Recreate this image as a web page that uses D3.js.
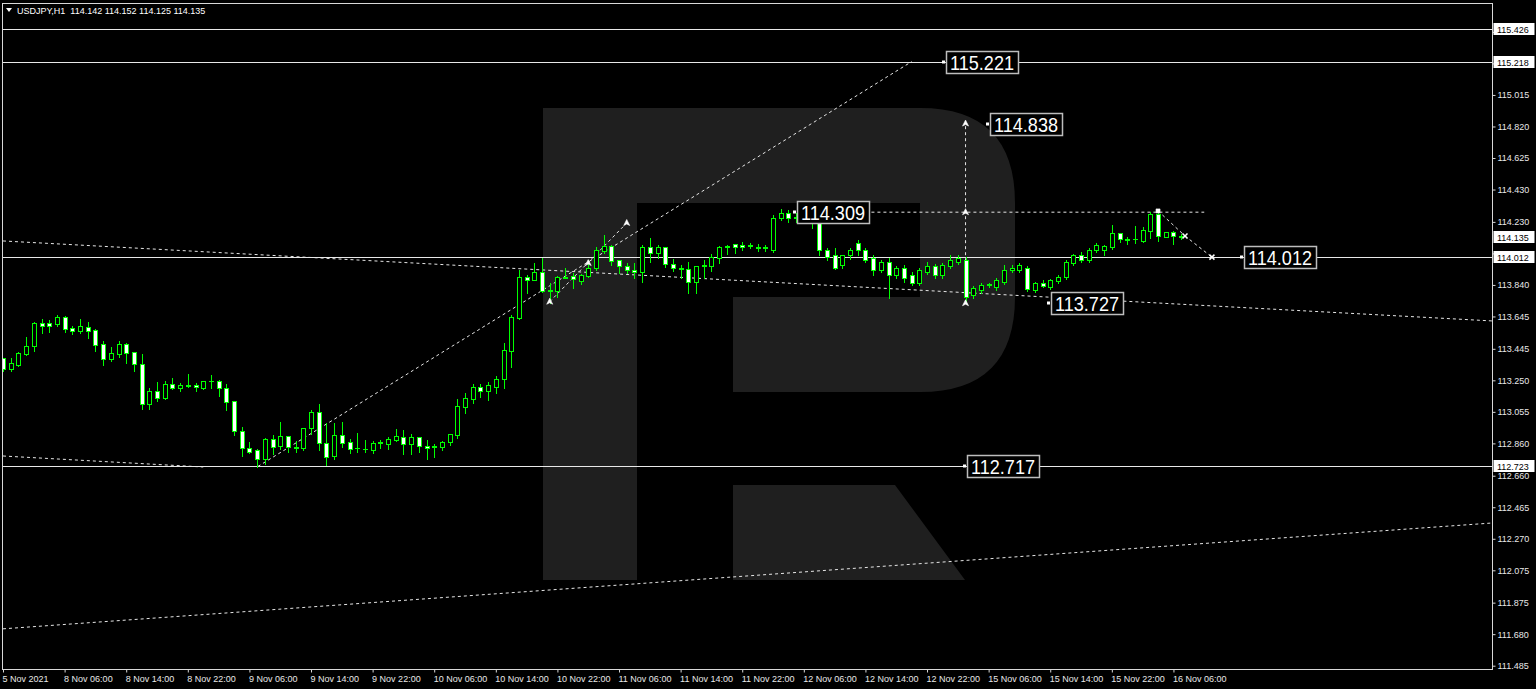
<!DOCTYPE html>
<html><head><meta charset="utf-8">
<script src="https://cdn.jsdelivr.net/npm/d3@7/dist/d3.min.js"></script>
<style>
html,body{margin:0;padding:0;background:#000;overflow:hidden}
svg{display:block}
text{font-family:"Liberation Sans",Arial,sans-serif}
</style></head>
<body>
<svg id="chart" width="1536" height="689"></svg>
<script>
// ---------------- DATA ----------------
const symbolTitle = "USDJPY,H1  114.142 114.152 114.125 114.135";
const open = [113.388,113.320,113.345,113.413,113.463,113.605,113.602,113.599,113.642,113.574,
113.555,113.580,113.562,113.475,113.382,113.413,113.475,113.425,113.351,113.104,
113.184,113.141,113.228,113.203,113.221,113.221,113.203,113.243,113.246,113.203,
113.122,112.937,112.832,112.819,112.764,112.888,112.844,112.906,112.832,112.832,
112.956,113.055,112.863,112.782,112.912,112.869,112.829,112.825,112.819,112.863,
112.857,112.881,112.900,112.857,112.900,112.844,112.838,112.838,112.869,112.912,
113.085,113.135,113.209,113.184,113.209,113.259,113.432,113.636,113.889,113.871,
113.920,113.803,113.803,113.883,113.895,113.864,113.895,113.945,114.050,114.081,
113.994,113.957,113.933,113.920,114.075,114.038,114.075,113.970,113.945,113.939,
113.858,113.957,113.957,114.007,114.075,114.093,114.087,114.081,114.075,114.069,
114.056,114.254,114.285,114.254,114.267,114.254,114.229,114.056,114.025,113.963,
114.025,114.099,114.056,114.007,113.933,113.982,113.902,113.945,113.902,113.852,
113.920,113.957,113.902,113.957,113.982,113.994,113.778,113.809,113.840,113.827,
113.858,113.933,113.933,113.945,113.809,113.852,113.827,113.864,113.889,113.976,
114.025,113.994,114.056,114.056,114.075,114.161,114.124,114.124,114.112,114.174,
114.279,114.136,114.168,114.142];
const high = [113.388,113.388,113.425,113.518,113.611,113.630,113.623,113.654,113.648,113.586,
113.630,113.611,113.568,113.494,113.456,113.494,113.481,113.425,113.413,113.203,
113.240,113.246,113.265,113.234,113.290,113.234,113.246,113.283,113.252,113.228,
113.122,112.962,112.869,112.825,112.894,112.912,112.993,112.906,112.875,112.956,
113.067,113.104,112.987,112.987,112.993,112.888,112.925,112.881,112.875,112.881,
112.900,112.950,112.943,112.918,112.900,112.881,112.857,112.875,112.918,113.135,
113.172,113.228,113.228,113.240,113.277,113.481,113.654,113.933,113.902,113.976,
114.007,113.852,113.895,113.945,113.914,113.908,113.994,114.075,114.149,114.087,
113.994,113.976,113.976,114.087,114.130,114.087,114.075,114.001,113.963,113.982,
113.957,113.994,114.031,114.081,114.087,114.093,114.106,114.099,114.093,114.087,
114.273,114.309,114.304,114.285,114.285,114.291,114.242,114.069,114.069,114.025,
114.069,114.118,114.069,114.025,113.994,114.007,113.957,113.963,113.920,113.945,
113.982,113.970,113.976,114.025,114.025,114.013,113.834,113.852,113.852,113.883,
113.963,113.963,113.976,113.957,113.858,113.871,113.877,113.902,113.994,114.031,
114.044,114.069,114.099,114.087,114.211,114.161,114.136,114.205,114.198,114.291,
114.310,114.168,114.174,114.152];
const low = [113.308,113.308,113.339,113.407,113.432,113.543,113.549,113.586,113.549,113.537,
113.543,113.512,113.432,113.345,113.370,113.395,113.357,113.308,113.073,113.073,
113.122,113.135,113.197,113.184,113.209,113.184,113.197,113.203,113.153,113.067,
112.912,112.782,112.801,112.717,112.733,112.795,112.825,112.807,112.807,112.819,
112.918,112.819,112.727,112.764,112.838,112.801,112.807,112.807,112.801,112.832,
112.825,112.875,112.795,112.795,112.807,112.764,112.776,112.819,112.850,112.894,
113.049,113.110,113.147,113.128,113.172,113.203,113.333,113.630,113.790,113.871,
113.797,113.728,113.766,113.883,113.821,113.846,113.889,113.933,114.038,113.963,
113.914,113.914,113.883,113.858,113.982,114.007,113.951,113.926,113.883,113.790,
113.790,113.883,113.926,113.976,114.031,114.038,114.056,114.069,114.050,114.050,
114.044,114.242,114.229,114.229,114.229,114.192,114.025,113.994,113.939,113.945,
114.001,114.025,113.982,113.902,113.920,113.759,113.883,113.858,113.840,113.840,
113.908,113.883,113.883,113.945,113.970,113.727,113.759,113.790,113.827,113.809,
113.846,113.920,113.920,113.803,113.797,113.827,113.815,113.852,113.877,113.963,
113.982,113.982,114.044,114.025,114.063,114.106,114.093,114.099,114.106,114.130,
114.112,114.136,114.093,114.125];
const close = [113.320,113.357,113.419,113.463,113.605,113.586,113.589,113.642,113.568,113.555,
113.586,113.555,113.469,113.382,113.419,113.475,113.419,113.351,113.104,113.184,
113.141,113.228,113.203,113.221,113.218,113.209,113.246,113.246,113.203,113.116,
112.937,112.832,112.807,112.764,112.888,112.838,112.906,112.838,112.838,112.956,
113.055,112.863,112.776,112.912,112.863,112.825,112.832,112.825,112.863,112.869,
112.888,112.906,112.857,112.900,112.844,112.832,112.844,112.869,112.918,113.091,
113.141,113.209,113.184,113.221,113.259,113.438,113.642,113.889,113.871,113.920,
113.803,113.809,113.889,113.889,113.877,113.902,113.945,114.056,114.081,113.988,
113.957,113.933,113.920,114.075,114.038,114.075,113.970,113.945,113.939,113.858,
113.957,113.963,114.013,114.075,114.081,114.075,114.075,114.087,114.069,114.075,
114.254,114.285,114.254,114.260,114.242,114.229,114.056,114.013,113.945,114.025,
114.056,114.056,113.994,113.933,113.982,113.902,113.945,113.883,113.852,113.933,
113.957,113.902,113.963,113.994,114.007,113.766,113.821,113.840,113.846,113.871,
113.933,113.945,113.963,113.815,113.852,113.834,113.871,113.889,113.982,114.025,
113.994,114.056,114.087,114.081,114.161,114.124,114.118,114.124,114.180,114.279,
114.143,114.168,114.143,114.135];

const timeTickIdx = [0,8,16,24,32,40,48,56,64,72,80,88,96,104,112,120,128,136,144,152];
const timeTickLabels = ["5 Nov 2021","8 Nov 06:00","8 Nov 14:00","8 Nov 22:00","9 Nov 06:00","9 Nov 14:00",
"9 Nov 22:00","10 Nov 06:00","10 Nov 14:00","10 Nov 22:00","11 Nov 06:00","11 Nov 14:00","11 Nov 22:00",
"12 Nov 06:00","12 Nov 14:00","12 Nov 22:00","15 Nov 06:00","15 Nov 14:00","15 Nov 22:00","16 Nov 06:00"];
// price grid ticks; labels that sit under the level boxes are left unlabeled
const priceTicks = [115.405,115.210,115.015,114.820,114.625,114.430,114.230,114.035,113.840,113.645,
113.445,113.250,113.055,112.860,112.660,112.465,112.270,112.075,111.875,111.680,111.485];
const hiddenTickLabels = [115.405,115.210,114.035];

const hLevels = [115.426,115.218,114.012,112.723];
const currentPrice = 114.135;
const bigLabelIdx = [122.4,128.2,103.1,161.1,136.1,125.2];
const bigLabelPrice = [115.218,114.838,114.290,114.012,113.727,112.723];
const bigLabelText = ["115.221","114.838","114.309","114.012","113.727","112.717"];
const trendLines = [
  [0,114.112,193.5,113.617],
  [0,112.782,26,112.714],
  [33.1,112.717,118,115.221],
  [71,113.736,81,114.223],
  [112,114.290,156,114.290],
  [125,113.727,125,114.838],
  [150,114.298,153.5,114.143],
  [153.5,114.143,157,114.012],
  [0,111.713,193.5,112.368]
];
const markIdx = [71,76,81,125,125,125,150,153.5,157];
const markPrice = [113.736,113.975,114.223,113.727,114.290,114.838,114.298,114.143,114.012];
const markType = ["up","up","up","up","up","up","dot","x","x"];

// ---------------- CHART ----------------
const svg = d3.select("#chart");
const W = 1536, H = 689;
const fL = 2.5, fT = 3.5, fR = 1492.5, fB = 669.5;

const x = d3.scaleLinear().domain([0, 193.5]).range([3, 1493]);
const y = d3.scaleLinear().domain([111.485, 115.426]).range([665.7, 28.5]);

svg.append("rect").attr("width",W).attr("height",H).attr("fill","#000");

// watermark
svg.append("path")
  .attr("d","M543,108 H920 Q1015,108 1015,203 V297 Q1015,392 920,392 H733 V297 H920 V203 H637 V580 H543 Z M733,485 H895 L965,580 H733 Z")
  .attr("fill","#1f1f1f");

const plot = svg.append("g");
plot.append("clipPath").attr("id","clip").append("rect")
  .attr("x",fL).attr("y",fT).attr("width",fR-fL).attr("height",fB-fT);
const g = plot.append("g").attr("clip-path","url(#clip)");

g.selectAll("line.trend").data(trendLines).join("line").attr("class","trend")
  .attr("x1",d=>x(d[0])).attr("y1",d=>y(d[1]))
  .attr("x2",d=>x(d[2])).attr("y2",d=>y(d[3]))
  .attr("stroke","#e6e6e6").attr("stroke-width",1).attr("stroke-dasharray","3,3");

g.selectAll("line.lvl").data(hLevels).join("line").attr("class","lvl")
  .attr("x1",fL).attr("x2",fR)
  .attr("y1",d=>Math.round(y(d))+0.5).attr("y2",d=>Math.round(y(d))+0.5)
  .attr("stroke","#e8e8e8").attr("stroke-width",1);

const idx = d3.range(open.length);
const cg = g.append("g");
idx.forEach(i=>{
  const cx = Math.round(x(i))+0.5;
  const o=open[i], c=close[i], h=high[i], l=low[i];
  cg.append("line").attr("x1",cx).attr("x2",cx)
    .attr("y1",Math.round(y(h))).attr("y2",Math.round(y(l))+1)
    .attr("stroke","#00ff00").attr("stroke-width",1);
  const yt = Math.round(y(Math.max(o,c))), yb = Math.round(y(Math.min(o,c)));
  if (yb - yt < 1) {
    cg.append("line").attr("x1",cx-2.5).attr("x2",cx+2.5)
      .attr("y1",yt+0.5).attr("y2",yt+0.5).attr("stroke","#00ff00");
  } else {
    cg.append("rect").attr("x",cx-2).attr("width",4)
      .attr("y",yt+0.5).attr("height",yb-yt)
      .attr("fill", c>=o ? "#000" : "#fff")
      .attr("stroke","#00ff00").attr("stroke-width",1);
  }
});

const markShapes = {
  up: "M0,-3.5 L3,2.5 L0,1 L-3,2.5 Z",
  dot: "M-2,-2 H2 V2 H-2 Z",
  x: "M-2.5,-2.5 L2.5,2.5 M2.5,-2.5 L-2.5,2.5"
};
g.selectAll("path.mk").data(markIdx).join("path").attr("class","mk")
  .attr("transform",(d,i)=>`translate(${x(d)},${y(markPrice[i])})`)
  .attr("d",(d,i)=>markShapes[markType[i]])
  .attr("fill","#fff")
  .attr("stroke","#fff").attr("stroke-width",(d,i)=>markType[i]==="x"?1.5:0.6);

const bl = g.selectAll("g.bl").data(bigLabelIdx).join("g").attr("class","bl")
  .attr("transform",(d,i)=>`translate(${Math.round(x(d))},${Math.round(y(bigLabelPrice[i]))})`);
bl.append("rect").attr("x",0.5).attr("y",-10.5).attr("width",72).attr("height",22)
  .attr("fill","#000").attr("stroke","#bdbdbd").attr("stroke-width",1.5);
bl.append("rect").attr("x",-4).attr("y",-1.5).attr("width",3).attr("height",3).attr("fill","#fff");
bl.append("text").attr("x",4).attr("y",8).attr("fill","#fff")
  .attr("font-size",21).attr("textLength",64).attr("lengthAdjust","spacingAndGlyphs")
  .text((d,i)=>bigLabelText[i]);

svg.append("rect").attr("x",fL).attr("y",fT).attr("width",fR-fL).attr("height",fB-fT)
  .attr("fill","none").attr("stroke","#d8d8d8").attr("stroke-width",1);

const ay = svg.append("g").attr("transform",`translate(${fR},0)`)
  .call(d3.axisRight(y).tickValues(priceTicks)
    .tickFormat(d => hiddenTickLabels.includes(d) ? "" : d3.format(".3f")(d))
    .tickSize(3).tickPadding(2));
ay.select(".domain").remove();
ay.selectAll("line").attr("stroke","#d8d8d8");
ay.selectAll("text").attr("fill","#e8e8e8").attr("font-size",9);

const boxPrices = hLevels.concat([currentPrice]);
const bx = svg.selectAll("g.bx").data(boxPrices).join("g").attr("class","bx")
  .attr("transform",d=>`translate(${fR+1},${Math.round(y(d))})`);
bx.append("rect").attr("x",0).attr("y",-6).attr("width",41).attr("height",12).attr("fill","#fff");
bx.append("text").attr("x",3.5).attr("y",3.5).attr("fill","#000").attr("font-size",9)
  .text(d=>d3.format(".3f")(d));

const ax = svg.append("g").attr("transform",`translate(0,${fB})`)
  .call(d3.axisBottom(x).tickValues(timeTickIdx).tickFormat((d,i)=>timeTickLabels[i]).tickSize(3).tickPadding(2));
ax.select(".domain").remove();
ax.selectAll("line").attr("stroke","#d8d8d8");
ax.selectAll("text").attr("fill","#e8e8e8").attr("font-size",9)
  .attr("text-anchor","start").attr("dx",-1).attr("dy","0.85em");

svg.append("path").attr("d","M6,8 L12,8 L9,12 Z").attr("fill","#fff");
svg.append("text").attr("x",17).attr("y",14).attr("fill","#fff").attr("font-size",9)
  .attr("xml:space","preserve").style("white-space","pre").text(symbolTitle);
</script>
</body></html>
